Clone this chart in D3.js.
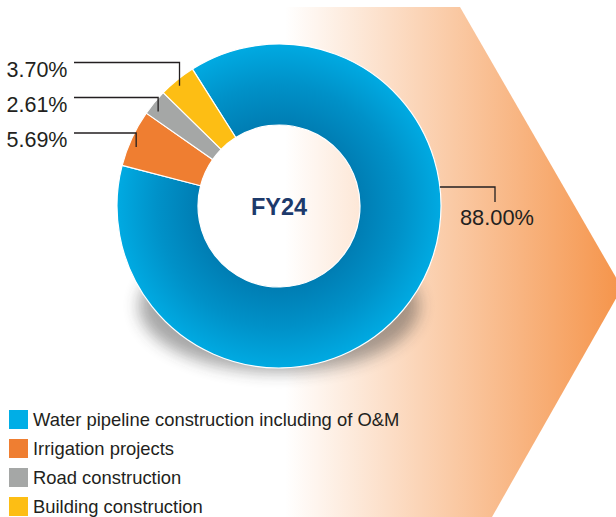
<!DOCTYPE html>
<html><head><meta charset="utf-8">
<script src="https://cdn.jsdelivr.net/npm/d3@7"></script>
<style>html,body{margin:0;padding:0;background:#fff;}svg{display:block;}</style>
</head><body>
<script>
const categories = ["Water pipeline construction including of O&M","Irrigation projects","Road construction","Building construction"];
const values = [88.00, 5.69, 2.61, 3.70];
const valueLabels = ["88.00%","5.69%","2.61%","3.70%"];
const colors = ["#00aee6","#ef7e31","#a5a7a6","#fdbe14"];
const centerLabel = "FY24";

const W = 616, H = 517;
const cx = 279, cy = 206, R = 162, r0 = 81;
const ink = "#231f20";
const svg = d3.select("body").append("svg").attr("width", W).attr("height", H);
const defs = svg.append("defs");

// background chevron gradient
const bg = defs.append("linearGradient").attr("id","bgGrad").attr("gradientUnits","userSpaceOnUse")
  .attr("x1",285).attr("x2",622).attr("y1",0).attr("y2",0);
bg.append("stop").attr("offset",0).attr("stop-color","#ffffff");
bg.append("stop").attr("offset",1).attr("stop-color","#f5944a");
svg.append("path").attr("d","M270,7 L460,7 L622,288 L492,517 L270,517 Z").attr("fill","url(#bgGrad)");

// shadow (masked so the donut hole stays clean)
const mask = defs.append("mask").attr("id","holeMask").attr("maskUnits","userSpaceOnUse")
  .attr("x",0).attr("y",0).attr("width",W).attr("height",H);
mask.append("rect").attr("width",W).attr("height",H).attr("fill","#fff");
mask.append("circle").attr("cx",cx).attr("cy",cy).attr("r",r0+1).attr("fill","#000");
const blur = defs.append("filter").attr("id","blur").attr("x","-50%").attr("y","-50%").attr("width","200%").attr("height","200%");
blur.append("feGaussianBlur").attr("stdDeviation",8);
svg.append("g").attr("mask","url(#holeMask)")
  .append("ellipse").attr("cx",cx).attr("cy",cy+100).attr("rx",140).attr("ry",66)
  .attr("fill","#2e2e2e").attr("opacity",0.42).attr("filter","url(#blur)");

// blue radial gradient
const rg = defs.append("radialGradient").attr("id","blueGrad").attr("gradientUnits","userSpaceOnUse")
  .attr("cx",0).attr("cy",0).attr("r",R);
rg.append("stop").attr("offset", r0/R).attr("stop-color","#007db3");
rg.append("stop").attr("offset", 0.75).attr("stop-color","#0091c8");
rg.append("stop").attr("offset", 1).attr("stop-color","#00aae2");

const a0 = -32.3 * Math.PI / 180;
const pie = d3.pie().sort(null).value(d => d).startAngle(a0).endAngle(a0 + 2*Math.PI);
const arcs = pie(values);
const arc = d3.arc().innerRadius(r0).outerRadius(R);

const g = svg.append("g").attr("transform",`translate(${cx},${cy})`);
g.selectAll("path.slice").data(arcs).enter().append("path").attr("class","slice")
  .attr("d", arc)
  .attr("fill", (d,i) => i === 0 ? "url(#blueGrad)" : colors[i])
  .attr("stroke","#ffffff").attr("stroke-width",1.2).attr("stroke-linejoin","round");

g.append("text").attr("x",0).attr("y",9).attr("text-anchor","middle")
  .attr("font-family","Liberation Sans, Arial, sans-serif").attr("font-weight","bold")
  .attr("font-size",23.5).attr("fill","#1d3a6b").text(centerLabel);

// leader labels on the left (small slices)
const pt = (ang, rad) => [cx + rad*Math.sin(ang), cy - rad*Math.cos(ang)];
const leftOrder = [3, 2, 1]; // yellow, gray, orange top to bottom
const leftBase = [76.5, 111.5, 147];
const fontL = "Liberation Sans, Arial, sans-serif";
leftOrder.forEach((idx, k) => {
  const d = arcs[idx];
  const ang = d.startAngle + 0.45*(d.endAngle - d.startAngle);
  const [ax, ay] = pt(ang, R - 6);
  const ly = leftBase[k] - 14;
  svg.append("path").attr("d",`M74,${ly} H${ax} V${Math.max(ay, ly + 14)}`)
    .attr("fill","none").attr("stroke",ink).attr("stroke-width",1.3);
  svg.append("text").attr("x",6.5).attr("y",leftBase[k]).attr("font-family",fontL)
    .attr("font-size",21.5).attr("fill",ink).text(valueLabels[idx]);
});

// blue label on right
{
  const ly = 187;
  const ex = cx + Math.sqrt(R*R - (ly-cy)*(ly-cy));
  svg.append("path").attr("d",`M${ex},${ly} H495 V202`)
    .attr("fill","none").attr("stroke",ink).attr("stroke-width",1.3);
  svg.append("text").attr("x",460).attr("y",225).attr("font-family",fontL)
    .attr("font-size",21.8).attr("fill",ink).text(valueLabels[0]);
}

// legend
const lg = svg.append("g");
categories.forEach((c, i) => {
  const y = 410 + i*29;
  lg.append("rect").attr("x",9).attr("y",y).attr("width",19).attr("height",19).attr("fill",colors[i]);
  lg.append("text").attr("x",33).attr("y",y+15.5).attr("font-family",fontL)
    .attr("font-size",18.4).attr("fill",ink).text(c);
});
</script>
</body></html>
